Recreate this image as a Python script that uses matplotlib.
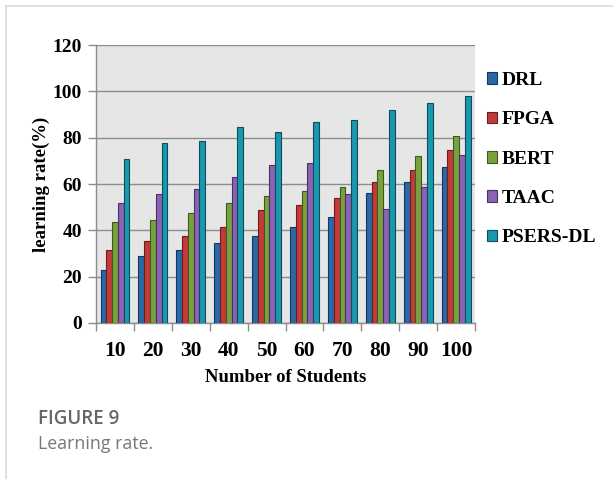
import matplotlib
matplotlib.use("Agg")
import matplotlib.pyplot as plt
import numpy as np
from matplotlib.lines import Line2D

# learning rate (%) per method, for 10..100 students
students = [10, 20, 30, 40, 50, 60, 70, 80, 90, 100]
drl = [23, 29, 31.5, 34.5, 37.5, 41.6, 45.7, 56, 61, 67.2]
fpga = [31.5, 35.5, 37.4, 41.6, 48.8, 50.8, 53.8, 61, 66, 74.7]
bert = [43.5, 44.6, 47.6, 51.8, 54.8, 56.8, 58.8, 66, 72, 80.7]
taac = [51.8, 55.8, 58, 63, 68, 68.9, 55.8, 49.2, 58.8, 72.5]
psers = [71, 77.5, 78.5, 84.7, 82.6, 86.7, 87.7, 91.9, 95, 98]

series = [("DRL", drl), ("FPGA", fpga), ("BERT", bert), ("TAAC", taac), ("PSERS-DL", psers)]
colors = ["#2a68a6", "#c23b39", "#79a23f", "#8c62b2", "#1b97ae"]
edges = ["#12395f", "#6e1d1b", "#3f5a1c", "#4c3168", "#0b4f5c"]

serif = ["Liberation Serif", "DejaVu Serif"]

fig = plt.figure(figsize=(6.13, 4.79), dpi=100)
ax = fig.add_axes([0.1566, 0.3257, 0.6184, 0.5803])
ax.set_facecolor("#e6e6e6")

x = np.arange(len(students))
w = 0.152
for i, (name, vals) in enumerate(series):
    ax.bar(x + (i - 2) * w, vals, width=w, color=colors[i], edgecolor=edges[i],
           linewidth=0.8, label=name, zorder=3)

ax.set_xlim(-0.5, len(students) - 0.5)
ax.set_ylim(0, 120)
ax.set_yticks(range(0, 121, 20))
ax.yaxis.grid(True, color="#8c8c8c", linewidth=1.0, zorder=0)
ax.set_axisbelow(True)

ax.set_xticks(x)
ax.set_xticklabels([str(s) for s in students])
ax.set_xticks(np.arange(-0.5, len(students)), minor=True)
ax.tick_params(axis="x", which="major", length=0, pad=13)
ax.tick_params(axis="x", which="minor", length=6, color="#8c8c8c", width=1)
ax.tick_params(axis="y", length=6, color="#8c8c8c", width=1, pad=4)

for lab in ax.get_xticklabels():
    lab.set_family(serif)
    lab.set_fontweight("bold")
    lab.set_fontsize(15.5)
for lab in ax.get_yticklabels():
    lab.set_family(serif)
    lab.set_fontweight("bold")
    lab.set_fontsize(14)

for side in ["top", "right"]:
    ax.spines[side].set_visible(False)
for side in ["left", "bottom"]:
    ax.spines[side].set_color("#8c8c8c")
    ax.spines[side].set_linewidth(1.0)

ax.set_xlabel("Number of Students", family=serif, fontweight="bold", fontsize=13.5, labelpad=6)
ax.set_ylabel("learning rate(%)", family=serif, fontweight="bold", fontsize=13.5, labelpad=2)

leg = ax.legend(loc="upper left", bbox_to_anchor=(1.0, 0.945), frameon=False,
                prop={"family": serif, "weight": "bold", "size": 14},
                handlelength=0.55, handleheight=0.55, handletextpad=0.2,
                labelspacing=1.15, borderaxespad=0.2)

# caption below the chart
fig.text(0.062, 0.125, "FIGURE 9", family="Open Sans", fontweight="semibold",
         fontsize=13.5, color="#666666", va="center")
fig.text(0.062, 0.073, "Learning rate.", family="Open Sans",
         fontsize=12.8, color="#777777", va="center")

# thin frame on top and left
fig.add_artist(Line2D([0.0098, 1.0], [0.9875, 0.9875], transform=fig.transFigure,
                      color="#d9d9d9", linewidth=1.2))
fig.add_artist(Line2D([0.0098, 0.0098], [0.0, 0.9875], transform=fig.transFigure,
                      color="#d9d9d9", linewidth=1.2))

fig.savefig("out.png", dpi=100)
plt.close(fig)
